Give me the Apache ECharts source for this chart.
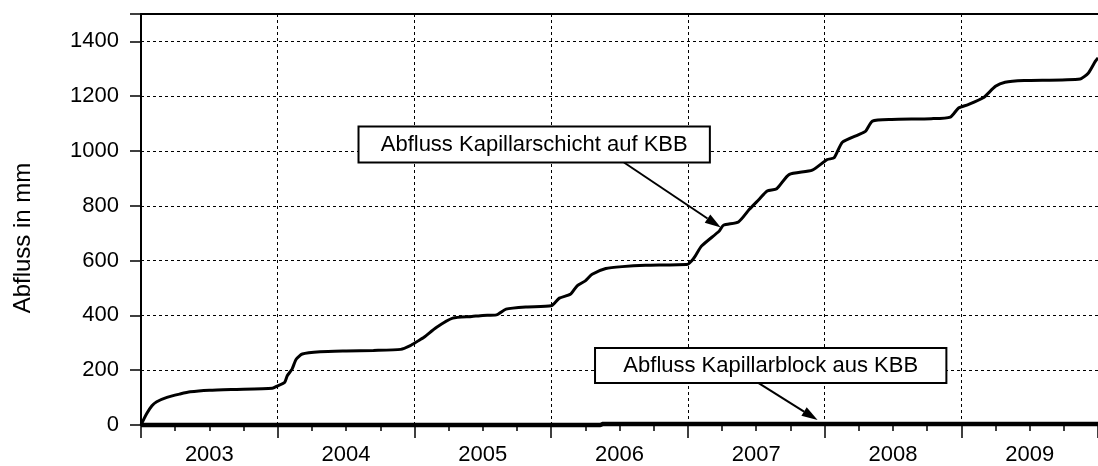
<!DOCTYPE html>
<html>
<head>
<meta charset="utf-8">
<script src="https://cdn.jsdelivr.net/npm/echarts@6/dist/echarts.min.js"></script>
<style>
html,body{margin:0;padding:0;background:#fff;}
#chart{width:1098px;height:466px;}
</style>
</head>
<body>
<div id="chart"></div>
<script>
// ---- data ----
const yearLabels = ['2003', '2004', '2005', '2006', '2007', '2008', '2009'];
const schichtTime = [2003.0, 2003.04, 2003.08, 2003.115, 2003.19, 2003.285, 2003.36, 2003.5, 2003.67, 2003.96,
  2004.0, 2004.05, 2004.07, 2004.105, 2004.135, 2004.18, 2004.31, 2004.5, 2004.7, 2004.9,
  2004.97, 2005.02, 2005.07, 2005.16, 2005.28, 2005.42, 2005.5, 2005.6, 2005.67, 2005.82,
  2006.0, 2006.06, 2006.14, 2006.19, 2006.25, 2006.3, 2006.4, 2006.52, 2006.69, 2007.0,
  2007.03, 2007.055, 2007.1, 2007.23, 2007.26, 2007.37, 2007.45, 2007.52, 2007.58, 2007.65,
  2007.74, 2007.91, 2008.02, 2008.07, 2008.13, 2008.25, 2008.3, 2008.35, 2008.49, 2008.78,
  2008.92, 2008.98, 2009.05, 2009.16, 2009.25, 2009.32, 2009.46, 2009.87, 2009.93, 2009.98, 2010.0];
const schichtValues = [0, 40, 70, 85, 101, 113, 121, 127, 130, 134,
  143, 155, 180, 204, 240, 259, 267, 270, 272, 276,
  290, 305, 320, 356, 390, 396, 400, 402, 423, 431,
  435, 463, 477, 508, 526, 550, 571, 578, 583, 587,
  600, 617, 653, 708, 729, 741, 787, 823, 854, 862,
  914, 930, 969, 975, 1032, 1060, 1072, 1109, 1115, 1118,
  1124, 1157, 1169, 1194, 1236, 1251, 1257, 1263, 1285, 1327, 1340];
const blockTime = [2003.0, 2006.36, 2006.38, 2010.0];
const blockValues = [0, 0, 4, 4];

// annotation anchors (data coordinates)
const notes = [
  {text: 'Abfluss Kapillarschicht auf KBB', box: [2004.591, 1089, 2007.161, 958], from: [2006.533, 958], to: [2007.241, 721]},
  {text: 'Abfluss Kapillarblock aus KBB', box: [2006.321, 281, 2008.891, 153], from: [2007.518, 153], to: [2007.949, 18]}
];

const FONT = '"Liberation Sans", Arial, sans-serif';
const dash = [3, 3];

const chart = echarts.init(document.getElementById('chart'), null, {renderer: 'canvas'});
const option = {
  animation: false,
  backgroundColor: '#fff',
  grid: {left: 141, top: 14, width: 959, height: 412, containLabel: false},
  xAxis: [
    {
      type: 'value', min: 2003, max: 2010, interval: 1,
      position: 'bottom',
      axisLine: {show: true, onZero: false, lineStyle: {color: '#000', width: 2}},
      axisTick: {show: true, length: 13, lineStyle: {color: '#000', width: 1.5}},
      minorTick: {show: true, splitNumber: 4, length: 6, lineStyle: {color: '#000', width: 1.5}},
      splitLine: {show: true, lineStyle: {color: '#000', width: 1, type: dash}},
      axisLabel: {show: false}
    },
    {
      type: 'category', data: yearLabels, boundaryGap: true,
      position: 'bottom',
      axisLine: {show: false}, axisTick: {show: false}, splitLine: {show: false},
      axisLabel: {show: true, color: '#000', fontFamily: FONT, fontSize: 22, margin: 19}
    },
    {
      type: 'value', min: 2003, max: 2010, position: 'top',
      axisLine: {show: true, onZero: false, lineStyle: {color: '#000', width: 2}},
      axisTick: {show: false}, axisLabel: {show: false}, splitLine: {show: false}
    }
  ],
  yAxis: [
    {
      type: 'value', min: 0, max: 1500, interval: 200,
      axisLine: {show: true, onZero: false, lineStyle: {color: '#000', width: 2}},
      axisTick: {show: true, length: 11, lineStyle: {color: '#000', width: 1.5}},
      splitLine: {show: true, lineStyle: {color: '#000', width: 1, type: dash}},
      axisLabel: {
        show: true, color: '#000', fontFamily: FONT, fontSize: 22, margin: 22,
        formatter: v => (v % 200 === 0 ? String(v) : '')
      }
    },
    {
      type: 'value', min: 0, max: 1500, interval: 100,
      axisLine: {show: false},
      axisTick: {show: true, length: 6, lineStyle: {color: '#000', width: 1.5}},
      splitLine: {show: false}, axisLabel: {show: false}
    }
  ],
  series: [
    {
      name: 'Abfluss Kapillarschicht auf KBB', type: 'line', xAxisIndex: 0, yAxisIndex: 0,
      data: schichtTime.map((t, i) => [t, schichtValues[i]]),
      showSymbol: false, clip: false, smooth: 0.2,
      lineStyle: {color: '#000', width: 3}
    },
    {
      name: 'Abfluss Kapillarblock aus KBB', type: 'line', xAxisIndex: 0, yAxisIndex: 0,
      data: blockTime.map((t, i) => [t, blockValues[i]]),
      showSymbol: false, clip: false,
      lineStyle: {color: '#000', width: 4.5}
    }
  ]
};
chart.setOption(option);

function px(p) { return chart.convertToPixel({xAxisIndex: 0, yAxisIndex: 0}, p); }

const graphics = [{
  type: 'text', x: 23, y: 238, rotation: Math.PI / 2,
  style: {text: 'Abfluss in mm', fontFamily: FONT, fontSize: 24, fill: '#000', textAlign: 'center', textVerticalAlign: 'middle'}
}];
notes.forEach(n => {
  const a = px([n.box[0], n.box[1]]);
  const b = px([n.box[2], n.box[3]]);
  const f = px(n.from), t = px(n.to);
  const dx = t[0] - f[0], dy = t[1] - f[1];
  const len = Math.hypot(dx, dy);
  const ux = dx / len, uy = dy / len;
  const L = 16, W = 10;
  const bx = t[0] - ux * L, by = t[1] - uy * L;
  graphics.push({
    type: 'line', shape: {x1: f[0], y1: f[1], x2: bx, y2: by},
    style: {stroke: '#000', lineWidth: 2}
  });
  graphics.push({
    type: 'polygon',
    shape: {points: [[t[0], t[1]], [bx - uy * W / 2, by + ux * W / 2], [bx + uy * W / 2, by - ux * W / 2]]},
    style: {fill: '#000'}
  });
  graphics.push({
    type: 'rect', shape: {x: a[0], y: a[1], width: b[0] - a[0], height: b[1] - a[1]},
    style: {fill: '#fff', stroke: '#000', lineWidth: 2}
  });
  graphics.push({
    type: 'text', x: (a[0] + b[0]) / 2, y: (a[1] + b[1]) / 2,
    style: {text: n.text, fontFamily: FONT, fontSize: 22, fill: '#000', textAlign: 'center', textVerticalAlign: 'middle'}
  });
});
chart.setOption({graphic: graphics});
</script>
</body>
</html>
